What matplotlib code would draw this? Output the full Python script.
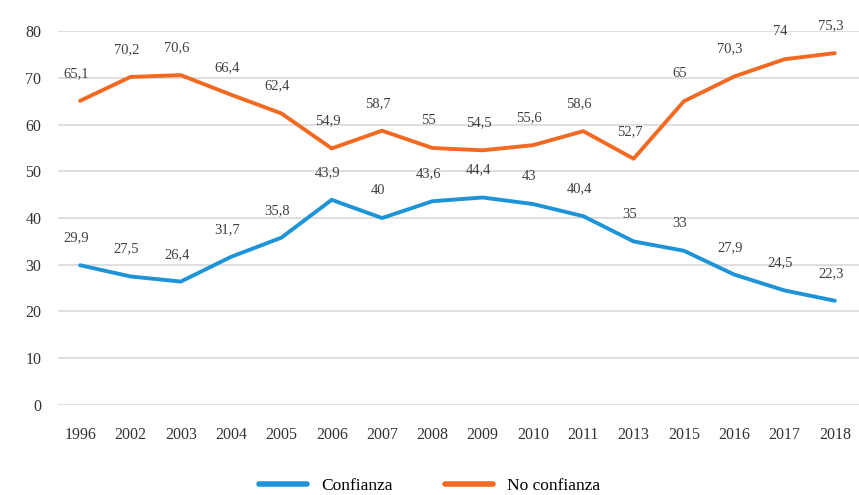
import numpy as np
import matplotlib.pyplot as plt

years = ['1996', '2002', '2003', '2004', '2005', '2006', '2007', '2008',
         '2009', '2010', '2011', '2013', '2015', '2016', '2017', '2018']
confianza = [29.9, 27.5, 26.4, 31.7, 35.8, 43.9, 40, 43.6,
             44.4, 43, 40.4, 35, 33, 27.9, 24.5, 22.3]
no_confianza = [65.1, 70.2, 70.6, 66.4, 62.4, 54.9, 58.7, 55,
                54.5, 55.6, 58.6, 52.7, 65, 70.3, 74, 75.3]

plt.rcParams['font.family'] = ['Liberation Serif', 'DejaVu Serif']

fig = plt.figure(figsize=(8.59, 4.95), dpi=100)
ax = fig.add_axes([0.0675, 0.182, 0.9325, 0.755])

x = np.arange(len(years))
ax.plot(x, confianza, color='#1e94d8', lw=2.8, label='Confianza', solid_capstyle='round')
ax.plot(x, no_confianza, color='#f26a21', lw=2.8, label='No confianza', solid_capstyle='round')

for series in (confianza, no_confianza):
    for xi, v in zip(x, series):
        ax.annotate(f'{v:g}'.replace('.', ','), (xi, v), xytext=(-3, 15), textcoords='offset points',
                    ha='center', va='bottom', fontsize=10.5, color='#404040', annotation_clip=False)

ax.set_ylim(0, 80)
ax.set_xlim(-0.44, 15.48)
ax.set_yticks(range(0, 81, 10))
ax.set_xticks(x)
ax.set_xticklabels(years)
ax.grid(axis='y', color='#d9d9d9', lw=1.2)
ax.set_axisbelow(True)
for s in ax.spines.values():
    s.set_visible(False)
ax.tick_params(length=0, labelsize=11.5, colors='#333333')
ax.tick_params(axis='x', pad=16)
ax.tick_params(axis='y', pad=12)

leg = fig.legend(loc='lower center', ncol=2, frameon=False, fontsize=12.5,
                 bbox_to_anchor=(0.5, -0.03), handlelength=2.8, columnspacing=3)
for h in leg.legend_handles:
    h.set_linewidth(4)

fig.savefig('out.png', dpi=100)
